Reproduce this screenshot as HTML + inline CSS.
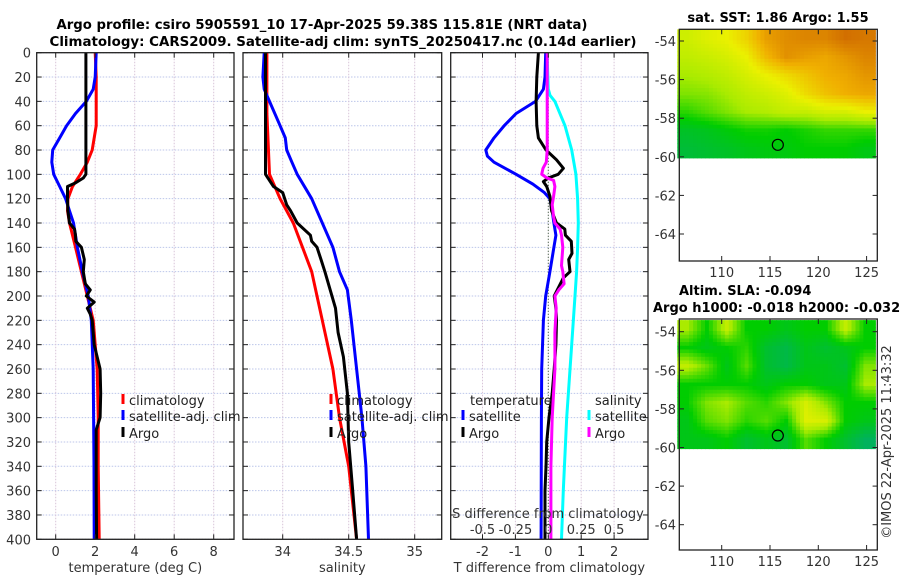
<!DOCTYPE html>
<html><head><meta charset="utf-8">
<style>
html,body{margin:0;padding:0;background:#fff;}
svg{display:block;font-family:"DejaVu Sans","Liberation Sans",sans-serif;}
.tk{font-size:13px;fill:#333;}
.tt{font-size:13px;font-weight:bold;fill:#000;}
.lg{font-size:13px;fill:#222;}
</style></head>
<body>
<svg id="fig" width="900" height="580" viewBox="0 0 900 580" xmlns="http://www.w3.org/2000/svg">
<g id="titles">
<text class="tt" x="322" y="29" text-anchor="middle" textLength="531" lengthAdjust="spacingAndGlyphs">Argo profile: csiro 5905591_10 17-Apr-2025 59.38S 115.81E (NRT data)</text>
<text class="tt" x="343" y="46" text-anchor="middle" textLength="587" lengthAdjust="spacingAndGlyphs">Climatology: CARS2009. Satellite-adj clim: synTS_20250417.nc (0.14d earlier)</text>
</g>
</svg>
<script>
// ---------- data ----------
const yTicks=[0,20,40,60,80,100,120,140,160,180,200,220,240,260,280,300,320,340,360,380,400];
const tTicks=[0,2,4,6,8];
const sTicks=[34,34.5,35];
const sTickLabels=["34","34.5","35"];
const dTicks=[-2,-1,0,1,2];
const dsTicks=[-0.5,-0.25,0,0.25,0.5];
const dsTickLabels=["-0.5","-0.25","0","0.25","0.5"];

const tClimD=[0,20,40,60,70,80,90,100,110,120,130,140,160,180,200,220,240,260,300,340,400];
const tClimV=[2.0,2.05,2.05,2.05,1.95,1.85,1.6,1.25,0.85,0.62,0.6,0.7,1.0,1.3,1.6,1.9,2.0,2.1,2.15,2.15,2.2];
const tSatD=[0,20,30,40,50,60,70,80,90,100,110,120,130,140,160,180,200,220,260,300,340,400];
const tSatV=[2.05,2.0,1.9,1.55,1.0,0.55,0.2,-0.15,-0.2,-0.1,0.2,0.5,0.7,0.9,1.1,1.35,1.65,1.8,1.9,1.92,1.94,1.95];
const tArgoD=[0,50,100,103,107,110,120,130,140,145,150,155,160,170,180,190,195,200,205,210,215,220,240,260,280,300,310,320,360,400];
const tArgoV=[1.53,1.53,1.53,1.4,1.0,0.6,0.6,0.62,0.7,0.95,1.0,1.02,1.3,1.45,1.4,1.5,1.75,1.55,1.95,1.6,1.75,1.85,1.95,2.25,2.28,2.25,2.05,2.05,2.05,2.07];

const sClimD=[0,50,100,120,140,160,180,200,220,260,300,340,400];
const sClimV=[33.88,33.88,33.9,33.98,34.08,34.15,34.22,34.26,34.3,34.38,34.43,34.5,34.56];
const sSatD=[0,20,30,40,60,70,80,90,100,120,140,160,180,195,220,260,300,340,400];
const sSatV=[33.86,33.85,33.86,33.9,33.98,34.02,34.03,34.07,34.11,34.22,34.3,34.38,34.43,34.49,34.52,34.56,34.6,34.63,34.65];
const sArgoD=[0,50,100,105,110,115,125,130,140,150,155,160,170,180,195,210,230,250,280,320,360,400];
const sArgoV=[33.87,33.87,33.87,33.9,33.93,34.0,34.03,34.06,34.11,34.21,34.22,34.26,34.29,34.32,34.36,34.4,34.42,34.46,34.49,34.5,34.53,34.56];

const dtSatD=[0,20,30,40,50,60,70,80,85,90,100,108,115,120,130,140,150,160,180,200,220,260,300,400];
const dtSatV=[-0.08,-0.1,-0.15,-0.39,-0.98,-1.34,-1.65,-1.9,-1.85,-1.65,-0.98,-0.47,-0.12,0.05,0.12,0.17,0.23,0.17,0.05,-0.08,-0.15,-0.2,-0.21,-0.22];
const dtArgoD=[0,20,40,60,70,80,88,95,100,103,106,110,118,130,140,145,150,155,165,170,180,185,200,210,220,240,260,280,300,320,340,360,400];
const dtArgoV=[-0.3,-0.35,-0.37,-0.35,-0.3,-0.07,0.25,0.46,0.3,0.0,-0.15,-0.05,0.05,0.1,0.25,0.5,0.52,0.7,0.72,0.62,0.66,0.46,0.18,0.23,0.25,0.23,0.18,0.12,0.02,-0.05,-0.07,-0.1,-0.1];
const dsSatD=[0,30,35,40,60,80,100,120,140,160,180,200,240,300,360,400];
const dsSatV=[-0.01,0.0,0.013,0.05,0.127,0.178,0.21,0.223,0.228,0.223,0.215,0.203,0.178,0.14,0.114,0.1];
const dsArgoD=[0,80,90,95,100,103,105,110,118,125,135,140,145,150,160,175,180,190,195,200,210,230,260,300,340,400];
const dsArgoV=[-0.008,-0.008,-0.015,-0.04,-0.05,-0.01,0.04,0.05,0.04,0.03,0.04,0.05,0.09,0.1,0.11,0.1,0.11,0.12,0.08,0.05,0.06,0.05,0.05,0.03,0.02,0.02];

const sstGrid=[
[0.58,0.62,0.65,0.72,0.84,0.88,0.9,0.9,0.95,0.93],
[0.55,0.57,0.6,0.65,0.78,0.87,0.84,0.82,0.86,0.9],
[0.5,0.52,0.55,0.6,0.65,0.7,0.75,0.8,0.82,0.86],
[0.45,0.46,0.5,0.55,0.58,0.62,0.7,0.76,0.8,0.82],
[0.35,0.4,0.45,0.5,0.52,0.56,0.56,0.6,0.6,0.65],
[0.22,0.24,0.28,0.32,0.32,0.3,0.33,0.36,0.36,0.36],
[0.18,0.2,0.22,0.25,0.27,0.27,0.3,0.3,0.3,0.26]];
const slaGrid=[
[0.5,0.3,0.55,0.3,0.3,0.25,0.3,0.3,0.55,0.3],
[0.3,0.25,0.3,0.35,0.2,0.15,0.25,0.2,0.25,0.3],
[0.55,0.42,0.25,0.4,0.2,0.15,0.25,0.25,0.2,0.45],
[0.3,0.3,0.3,0.3,0.25,0.3,0.3,0.25,0.25,0.5],
[0.3,0.45,0.5,0.4,0.35,0.45,0.6,0.45,0.3,0.3],
[0.25,0.4,0.45,0.35,0.4,0.3,0.62,0.6,0.3,0.25],
[0.25,0.25,0.3,0.2,0.25,0.2,0.4,0.3,0.2,0.1]];
const lonTicks=[110,115,120,125];
const latTicks=[-54,-56,-58,-60,-62,-64];
const argoLon=115.81, argoLat=-59.38;

// ---------- helpers ----------
const NS='http://www.w3.org/2000/svg';
const svg=document.getElementById('fig');
function mk(tag,attrs,parent){const e=document.createElementNS(NS,tag);for(const k in attrs)e.setAttribute(k,attrs[k]);(parent||svg).appendChild(e);return e;}
const yD=d=>52.7+1.2165*d;
const Y0=52.7,Y1=539.3;
const xT=v=>55.7+19.75*v;
const xS=v=>282.7+132*(v-34);
const xDT=v=>548.3+32.9*v;
const xDS=v=>548.3+131.6*v;
const panels=[{x0:36.7,x1:234,ticks:tTicks.map(xT),labels:tTicks.map(String),title:'temperature (deg C)',name:'temperature-panel'},
{x0:243,x1:441.7,ticks:sTicks.map(xS),labels:sTickLabels,title:'salinity',name:'salinity-panel'},
{x0:450.7,x1:648,ticks:dTicks.map(xDT),labels:dTicks.map(String),title:'T difference from climatology',name:'difference-panel'}];

panels.forEach((p,pi)=>{
  const g=mk('g',{});
  
  
  yTicks.forEach(d=>{const l=mk('line',{x1:p.x0,x2:p.x1,y1:yD(d),y2:yD(d),stroke:'#bcc6ea','stroke-width':1,'stroke-dasharray':'1.5,1.5'},g);
    });
  p.ticks.forEach(x=>{const l=mk('line',{x1:x,x2:x,y1:Y0,y2:Y1,stroke:'#d8c4d8','stroke-width':1,'stroke-dasharray':'1.5,1.5'},g);
    });
  p.g=g;
});

function line(g,D,V,fx,color,w,name){
  const pts=D.map((d,i)=>fx(V[i]).toFixed(1)+','+yD(d).toFixed(1)).join(' ');
  const e=mk('polyline',{points:pts,fill:'none',stroke:color,'stroke-width':w,'stroke-linejoin':'round'},g);
  
  
}
const z=mk('line',{x1:xDT(0),x2:xDT(0),y1:Y0,y2:Y1,stroke:'#335533','stroke-width':1,'stroke-dasharray':'1,2'},panels[2].g);


line(panels[0].g,tClimD,tClimV,xT,'#ff0000',3,'temperature-climatology-line');
line(panels[0].g,tSatD,tSatV,xT,'#0000ff',3,'temperature-satellite-line');
line(panels[0].g,tArgoD,tArgoV,xT,'#000000',3,'temperature-argo-line');
line(panels[1].g,sClimD,sClimV,xS,'#ff0000',3,'salinity-climatology-line');
line(panels[1].g,sSatD,sSatV,xS,'#0000ff',3,'salinity-satellite-line');
line(panels[1].g,sArgoD,sArgoV,xS,'#000000',3,'salinity-argo-line');
line(panels[2].g,dsSatD,dsSatV,xDS,'#00ffff',3,'salinity-diff-satellite-line');
line(panels[2].g,dtSatD,dtSatV,xDT,'#0000ff',3,'temperature-diff-satellite-line');
line(panels[2].g,dtArgoD,dtArgoV,xDT,'#000000',3,'temperature-diff-argo-line');
line(panels[2].g,dsArgoD,dsArgoV,xDS,'#ff00ff',3,'salinity-diff-argo-line');

panels.forEach((p,pi)=>{
  const g=p.g;
  const fr=mk('rect',{x:p.x0,y:Y0,width:p.x1-p.x0,height:Y1-Y0,fill:'none',stroke:'#222','stroke-width':1.3},g);
  
  yTicks.forEach(d=>{
    mk('line',{x1:p.x0,x2:p.x0+5,y1:yD(d),y2:yD(d),stroke:'#222'},g);
    mk('line',{x1:p.x1-5,x2:p.x1,y1:yD(d),y2:yD(d),stroke:'#222'},g);
    if(pi===0){const t=mk('text',{x:31,y:yD(d)+5,'text-anchor':'end',class:'tk'},g);t.textContent=String(d);
      }
  });
  p.ticks.forEach((x,i)=>{
    mk('line',{x1:x,x2:x,y1:Y1,y2:Y1-5,stroke:'#222'},g);
    mk('line',{x1:x,x2:x,y1:Y0,y2:Y0+5,stroke:'#222'},g);
    const t=mk('text',{x:x,y:556,'text-anchor':'middle',class:'tk'},g);t.textContent=p.labels[i];
    
  });
  const t=mk('text',{x:(p.x0+p.x1)/2,y:572,'text-anchor':'middle',class:'tk'},g);t.textContent=p.title;
  
});
{const g=panels[2].g;
 const t=mk('text',{x:548,y:518,'text-anchor':'middle',class:'tk'},g);t.textContent='S difference from climatology';
 
 dsTicks.forEach((v,i)=>{const e=mk('text',{x:xDS(v/4),y:534,'text-anchor':'middle',class:'tk'},g);e.textContent=dsTickLabels[i];
  e.setAttribute('x',(548.3+131.6*v).toFixed(1));
  });}

function legend(x,y,color,label,name){
  const g=mk('g',{});
  
  
  mk('line',{x1:x,x2:x,y1:y-11,y2:y-1,stroke:color,'stroke-width':3},g);
  const t=mk('text',{x:x+6,y:y,class:'lg'},g);t.textContent=label;
}
[[123,'climatology-legend'],[331,'salinity-legend']].forEach(([x,n])=>{
  legend(x,405,'#ff0000','climatology',n+'-climatology');
  legend(x,421,'#0000ff','satellite-adj. clim',n+'-satellite');
  legend(x,438,'#000000','Argo',n+'-argo');
});
{const t=mk('text',{x:470,y:405,class:'lg'});t.textContent='temperature';
 const s=mk('text',{x:595,y:405,class:'lg'});s.textContent='salinity';}
legend(463,421,'#0000ff','satellite','legend-t-satellite');
legend(463,438,'#000000','Argo','legend-t-argo');
legend(589,421,'#00ffff','satellite','legend-s-satellite');
legend(589,438,'#ff00ff','Argo','legend-s-argo');

// maps
const stops=[[0,[0,165,140]],[0.3,[0,205,0]],[0.5,[170,235,0]],[0.65,[235,240,0]],[0.8,[240,175,0]],[1,[200,90,0]]];
function cmap(v){v=Math.max(0,Math.min(1,v));for(let i=1;i<stops.length;i++){if(v<=stops[i][0]){const a=stops[i-1],b=stops[i];const f=(v-a[0])/(b[0]-a[0]);
  const c=a[1].map((q,k)=>Math.round(q+(b[1][k]-q)*f));return 'rgb('+c.join(',')+')';}}return 'rgb(200,90,0)';}
function sample(grid,fr,fc){ // bilinear on cell centers
  const nr=grid.length,nc=grid[0].length;
  let r=fr*nr-0.5,c=fc*nc-0.5;r=Math.max(0,Math.min(nr-1,r));c=Math.max(0,Math.min(nc-1,c));
  const r0=Math.floor(r),c0=Math.floor(c),r1=Math.min(nr-1,r0+1),c1=Math.min(nc-1,c0+1);const a=r-r0,b=c-c0;
  return grid[r0][c0]*(1-a)*(1-b)+grid[r0][c1]*(1-a)*b+grid[r1][c0]*a*(1-b)+grid[r1][c1]*a*b;
}
function map(cfg){
  const g=mk('g',{});
  
  
  const xL=lon=>721.7+9.66*(lon-110);
  const yL=lat=>cfg.y54+19.3*(-54-lat);
  const lon0=105.4,lon1=125.9,latTop=cfg.latTop,latBot=-60.05;
  const grid=cfg.grid,sub=5,nr=grid.length*sub,nc=grid[0].length*sub;
  for(let r=0;r<nr;r++)for(let c=0;c<nc;c++){
    const la=latTop+(latBot-latTop)*r/nr, lb=latTop+(latBot-latTop)*(r+1)/nr;
    const xa=xL(lon0+(lon1-lon0)*c/nc), xb=xL(lon0+(lon1-lon0)*(c+1)/nc);
    const v=sample(grid,(r+0.5)/nr,(c+0.5)/nc);
    const e=mk('rect',{x:xa.toFixed(1),y:yL(la).toFixed(1),width:(xb-xa+0.6).toFixed(1),height:(yL(lb)-yL(la)+0.6).toFixed(1),fill:cmap(v)},g);
    
    
  }
  const fr=mk('rect',{x:679.3,y:cfg.top,width:198,height:cfg.bot-cfg.top,fill:'none',stroke:'#222','stroke-width':1.3},g);
  
  latTicks.forEach(la=>{const y=yL(la);if(y>cfg.bot)return;
    mk('line',{x1:679.3,x2:684,y1:y,y2:y,stroke:'#222'},g);mk('line',{x1:872.6,x2:877.3,y1:y,y2:y,stroke:'#222'},g);
    const t=mk('text',{x:676,y:y+5,'text-anchor':'end',class:'tk'},g);t.textContent=String(la);
    });
  lonTicks.forEach(lo=>{const x=xL(lo);
    mk('line',{x1:x,x2:x,y1:cfg.bot,y2:cfg.bot-5,stroke:'#222'},g);mk('line',{x1:x,x2:x,y1:cfg.top,y2:cfg.top+5,stroke:'#222'},g);
    const t=mk('text',{x:x,y:cfg.bot+16,'text-anchor':'middle',class:'tk'},g);t.textContent=String(lo);
    });
  const c=mk('circle',{cx:xL(argoLon),cy:yL(argoLat),r:5.5,fill:'none',stroke:'#000','stroke-width':1.2},g);
  
}
map({name:'sst-map',grid:sstGrid,y54:41,top:29.3,bot:261,latTop:-53.4});
map({name:'sla-map',grid:slaGrid,y54:331.7,top:319,bot:550,latTop:-53.4});
{const a=mk('text',{x:778,y:22,'text-anchor':'middle',class:'tt'});a.textContent='sat. SST: 1.86 Argo: 1.55';
 const b=mk('text',{x:679,y:295,class:'tt'});b.textContent='Altim. SLA: -0.094';
 const c=mk('text',{x:653,y:312,class:'tt'});c.textContent='Argo h1000: -0.018 h2000: -0.032';
 const d=mk('text',{x:0,y:0,'text-anchor':'middle',class:'tk',transform:'translate(891,442) rotate(-90)'});d.textContent='©IMOS 22-Apr-2025 11:43:32';}
</script>
</body></html>
